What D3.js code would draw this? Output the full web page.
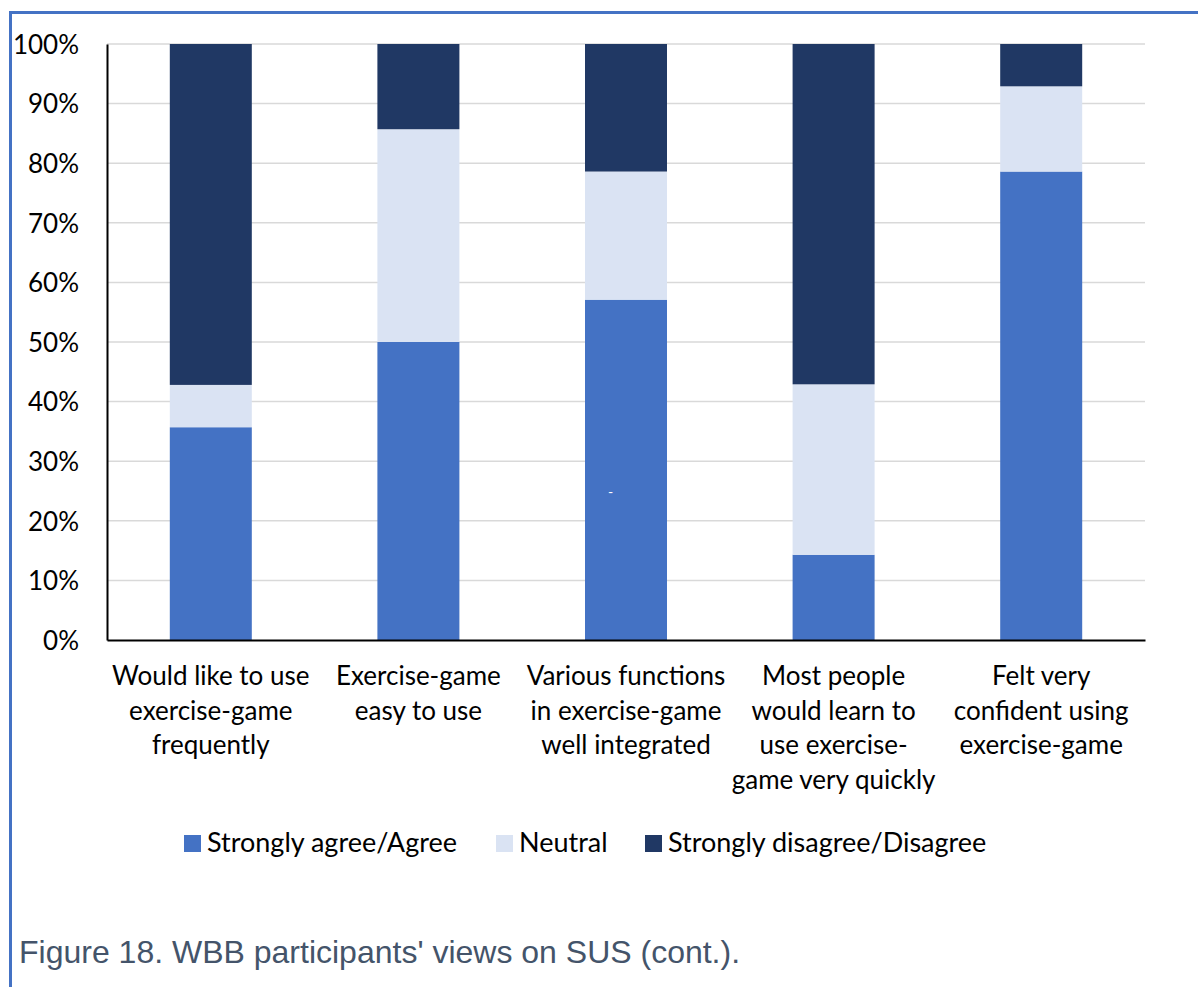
<!DOCTYPE html>
<html><head><meta charset="utf-8">
<script src="https://cdn.jsdelivr.net/npm/d3@7"></script>
<style>body{margin:0;background:#fff}svg{display:block}</style>
</head><body>
<svg id="c" width="1198" height="987"></svg>
<script>
const categories = [
  ["Would like to use","exercise-game","frequently"],
  ["Exercise-game","easy to use"],
  ["Various functions","in exercise-game","well integrated"],
  ["Most people","would learn to","use exercise-","game very quickly"],
  ["Felt very","confident using","exercise-game"]
];
const seriesNames = ["Strongly agree/Agree","Neutral","Strongly disagree/Disagree"];
const agree    = [35.7, 50.0, 57.1, 14.3, 78.6];
const neutral  = [7.1, 35.7, 21.5, 28.6, 14.3];
const disagree = [57.2, 14.3, 21.4, 57.1, 7.1];
const yTicks = [0,10,20,30,40,50,60,70,80,90,100];
const colors = ["#4472C4","#DAE3F3","#203864"];

(function(){
const svg = d3.select("#c");
const FONT = "Lato, 'Open Sans', sans-serif";
const mL=107, mR=1145, mT=44, mB=640;
const x = d3.scaleBand().domain(d3.range(categories.length)).range([mL,mR]).paddingInner(0.605).paddingOuter(0.3025);
const y = d3.scaleLinear().domain([0,100]).range([mB,mT]);

// border
svg.append("line").attr("x1",10.5).attr("x2",1198).attr("y1",12.5).attr("y2",12.5).attr("stroke","#4472C4").attr("stroke-width",3);
svg.append("line").attr("x1",10.5).attr("x2",10.5).attr("y1",11).attr("y2",987).attr("stroke","#4472C4").attr("stroke-width",3);

// grid
svg.append("g").selectAll("line").data(yTicks.filter(d=>d>0)).join("line")
  .attr("x1",mL).attr("x2",mR).attr("y1",d=>y(d)).attr("y2",d=>y(d))
  .attr("stroke","#d9d9d9").attr("stroke-width",1.5);

const stackData = categories.map((c,i)=>({i, s0:agree[i], s1:neutral[i], s2:disagree[i]}));
const stack = d3.stack().keys(["s0","s1","s2"])(stackData);
svg.append("g").selectAll("g").data(stack).join("g").attr("fill",(d,k)=>colors[k])
  .selectAll("rect").data(d=>d).join("rect")
  .attr("x",d=>x(d.data.i)).attr("width",x.bandwidth())
  .attr("y",d=>y(d[1])).attr("height",d=>y(d[0])-y(d[1]));

// axes
const ya = svg.append("g").attr("transform",`translate(${mL},0)`)
  .call(d3.axisLeft(y).tickValues(yTicks).tickFormat(d=>d+"%").tickSize(0).tickPadding(28));
ya.select(".domain").attr("stroke","#000").attr("stroke-width",2);
ya.selectAll("text").attr("font-family",FONT).attr("font-size",26).attr("fill","#000").attr("dy","0.36em");

const xa = svg.append("g").attr("transform",`translate(0,${mB})`)
  .call(d3.axisBottom(x).tickSize(0).tickFormat(""));
xa.select(".domain").attr("stroke","#000").attr("stroke-width",2);

// category labels
svg.append("g").selectAll("text").data(categories).join("text")
  .attr("x",(d,i)=>x(i)+x.bandwidth()/2).attr("y",685)
  .attr("text-anchor","middle").attr("font-family",FONT).attr("font-size",26).attr("fill","#000")
  .selectAll("tspan").data(d=>d).join("tspan")
  .attr("x",function(){return this.parentNode.getAttribute("x");})
  .attr("dy",(d,j)=>j===0?0:34.5).text(d=>d);

// small mark
svg.append("text").attr("x",x(2)+x.bandwidth()*0.28).attr("y",y(24)).attr("font-size",14).attr("fill","#fff").attr("font-family",FONT).text("-");

// legend
const lg = svg.append("g").selectAll("g").data(seriesNames).join("g")
  .attr("transform",(d,i)=>`translate(${[184,496,645][i]},835)`);
lg.append("rect").attr("width",17).attr("height",17).attr("fill",(d,i)=>colors[i]);
lg.append("text").attr("x",23).attr("y",17).attr("font-family",FONT).attr("font-size",27).attr("fill","#000").text(d=>d);

// caption
svg.append("text").attr("x",19).attr("y",963).attr("font-family","'Liberation Sans',Arial,sans-serif").attr("font-size",32).attr("fill","#44546A").text("Figure 18. WBB participants' views on SUS (cont.).");
})();
</script>
</body></html>
